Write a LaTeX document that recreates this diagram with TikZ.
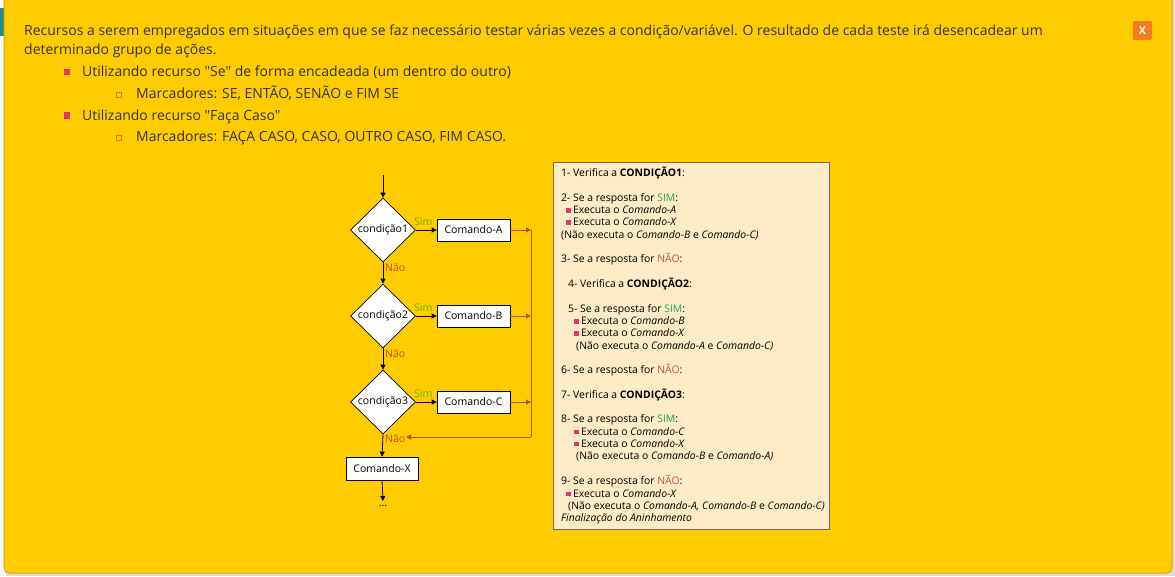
\documentclass[tikz,border=0pt]{standalone}
\usepackage{fontspec}
\setmainfont{Open Sans}[Ligatures=TeXOff]
\usetikzlibrary{shapes.geometric,arrows.meta}
\definecolor{panel}{HTML}{FFCC00}
\definecolor{paneledge}{HTML}{E8A000}
\definecolor{pagebg}{HTML}{DADADA}
\definecolor{tealc}{HTML}{1E8C8C}
\definecolor{txt}{HTML}{333333}
\definecolor{bpink}{HTML}{E0356E}
\definecolor{subor}{HTML}{E8731A}
\definecolor{xbtn}{HTML}{F47A20}
\definecolor{simg}{HTML}{66B800}
\definecolor{naoo}{HTML}{C8500A}
\definecolor{retc}{HTML}{C05000}
\definecolor{boxfill}{HTML}{FDEBC5}
\definecolor{boxedge}{HTML}{7A6A50}
\definecolor{simbox}{HTML}{1FAA4A}
\definecolor{naobox}{HTML}{C0504D}
\newcommand{\mainsz}{\fontsize{14}{18}\selectfont}
\newcommand{\flsz}{\fontsize{10.5}{12}\selectfont}
\newcommand{\rtsz}{\fontsize{10.4}{12}\selectfont}
\newcommand{\bsq}{\textcolor{bpink}{\rule[0.6pt]{4.6pt}{4.6pt}}\hspace{2.2pt}}
\newcommand{\sq}{{\char34}}
\tikzset{
  mt/.style={anchor=base west, inner sep=0pt, text=txt, font=\mainsz},
  rt/.style={anchor=base west, inner sep=0pt, text=black, font=\rtsz},
  dia/.style={diamond, draw=black, fill=white, line width=0.7pt, aspect=1, minimum width=65pt, minimum height=64pt, inner sep=0pt, font=\flsz},
  cmd/.style={rectangle, draw=black, fill=white, line width=0.7pt, minimum width=73pt, minimum height=22pt, inner sep=0pt, font=\flsz},
  flow/.style={draw=black, line width=0.8pt, -{Triangle[length=5pt,width=5pt]}},
  ret/.style={draw=retc, line width=0.8pt},
  reta/.style={ret, -{Triangle[length=5pt,width=5pt]}},
  siml/.style={inner sep=0pt, text=simg, font=\flsz},
  naol/.style={inner sep=0pt, text=naoo, font=\flsz},
  pbul/.style={fill=bpink, minimum size=6.5pt, inner sep=0pt},
  sbul/.style={draw=subor, line width=0.7pt, fill=none, minimum size=5.5pt, inner sep=0pt}
}
\begin{document}
\begin{tikzpicture}[x=1pt,y=-1pt]
\useasboundingbox (0,0) rectangle (1175,576);
\fill[pagebg] (0,0) rectangle (1175,576);
\fill[white] (0,0) rectangle (6,576);
\fill[tealc] (0,8) rectangle (6,36);
\draw[paneledge, fill=panel, line width=1pt, rounded corners=5pt] (4,-8) rectangle (1172,573);

% close button
\node[fill=xbtn, rounded corners=2pt, minimum size=19pt, inner sep=0pt, text=white, font=\fontsize{11}{12}\selectfont\bfseries] (xb) at (1142.5,30.5) {X};

% main text
\node[mt] (l1) at (24,35) {Recursos a serem empregados em situações em que se faz necessário testar várias vezes a condição/variável. O resultado de cada teste irá desencadear um};
\node[mt] (l2) at (24,54) {determinado grupo de ações.};
\node[pbul] (b1) at (67,72) {};
\node[mt] (t1) at (82,76.5) {Utilizando recurso \sq Se\sq{} de forma encadeada (um dentro do outro)};
\node[sbul] (s1) at (119,95) {};
\node[mt] (t2) at (136,98.5) {Marcadores: SE, ENTÃO, SENÃO e FIM SE};
\node[pbul] (b2) at (67,115.5) {};
\node[mt] (t3) at (82,120) {Utilizando recurso \sq Faça Caso\sq};
\node[sbul] (s2) at (119,138) {};
\node[mt] (t4) at (136,141.5) {Marcadores: FAÇA CASO, CASO, OUTRO CASO, FIM CASO.};

% flowchart
\coordinate (st) at (383,175);
\node[dia] (d1) at (383,230) {condição1};
\node[dia] (d2) at (383,316) {condição2};
\node[dia] (d3) at (383,402) {condição3};
\node[cmd] (ca) at (473.5,230) {Comando-A};
\node[cmd] (cb) at (473.5,316) {Comando-B};
\node[cmd] (cc) at (473.5,402) {Comando-C};
\node[cmd, minimum width=72pt, minimum height=23pt] (cx) at (382,468.5) {Comando-X};
\node[inner sep=0pt, font=\flsz] (dots) at (383,506) {...};
\coordinate (ja) at (531,230);
\coordinate (jb) at (531,316);
\coordinate (jc) at (531,402);
\coordinate (jd) at (531,437);
\coordinate (jn) at (406,437);
\coordinate (dend) at (383,501);

\draw[flow] (st) -- (d1.north);
\draw[flow] (d1.south) -- (d2.north);
\draw[flow] (d2.south) -- (d3.north);
\draw[flow] (d3.south) -- (cx.north);
\draw[flow] (cx.south) -- (dend);
\draw[flow] (d1.east) -- (ca.west);
\draw[flow] (d2.east) -- (cb.west);
\draw[flow] (d3.east) -- (cc.west);
\draw[reta] (ca.east) -- (ja);
\draw[reta] (cb.east) -- (jb);
\draw[reta] (cc.east) -- (jc);
\draw[ret] (ja) -- (jd);
\draw[reta] (jd) -- (jn);

\node[siml, anchor=base west] (sim1) at (414,225) {Sim};
\node[siml, anchor=base west] (sim2) at (414,311) {Sim};
\node[siml, anchor=base west] (sim3) at (414,397) {Sim};
\node[naol, anchor=base west] (nao1) at (385,271) {Não};
\node[naol, anchor=base west] (nao2) at (385,357) {Não};
\node[naol, anchor=base west] (nao3) at (385,442) {Não};

% explanation box
\draw[boxedge, fill=boxfill, line width=0.8pt] (553,162) rectangle (829,529);
\node[rt] (r1) at (561,176.5) {1- Verifica a \textbf{CONDIÇÃO1}:};
\node[rt] (r2) at (561,201) {2- Se a resposta for \textcolor{simbox}{SIM}:};
\node[rt] (r3) at (566,213.5) {\bsq Executa o \textit{Comando-A}};
\node[rt] (r4) at (566,225.5) {\bsq Executa o \textit{Comando-X}};
\node[rt] (r5) at (561,238) {(Não executa o \textit{Comando-B} e \textit{Comando-C)}};
\node[rt] (r6) at (561,262.5) {3- Se a resposta for \textcolor{naobox}{NÃO}:};
\node[rt] (r7) at (568,287) {4- Verifica a \textbf{CONDIÇÃO2}:};
\node[rt] (r8) at (568,312) {5- Se a resposta for \textcolor{simbox}{SIM}:};
\node[rt] (r9) at (574,324.5) {\bsq Executa o \textit{Comando-B}};
\node[rt] (r10) at (574,336.5) {\bsq Executa o \textit{Comando-X}};
\node[rt] (r11) at (576,349) {(Não executa o \textit{Comando-A} e \textit{Comando-C)}};
\node[rt] (r12) at (561,373.5) {6- Se a resposta for \textcolor{naobox}{NÃO}:};
\node[rt] (r13) at (561,398) {7- Verifica a \textbf{CONDIÇÃO3}:};
\node[rt] (r14) at (561,422.5) {8- Se a resposta for \textcolor{simbox}{SIM}:};
\node[rt] (r15) at (574,435) {\bsq Executa o \textit{Comando-C}};
\node[rt] (r16) at (574,447) {\bsq Executa o \textit{Comando-X}};
\node[rt] (r17) at (576,459.5) {(Não executa o \textit{Comando-B} e \textit{Comando-A)}};
\node[rt] (r18) at (561,484.5) {9- Se a resposta for \textcolor{naobox}{NÃO}:};
\node[rt] (r19) at (566,497) {\bsq Executa o \textit{Comando-X}};
\node[rt] (r20) at (568,509) {(Não executa o \textit{Comando-A, Comando-B} e \textit{Comando-C)}};
\node[rt] (r21) at (561,521) {\textit{Finalização do Aninhamento}};
\end{tikzpicture}
\end{document}
